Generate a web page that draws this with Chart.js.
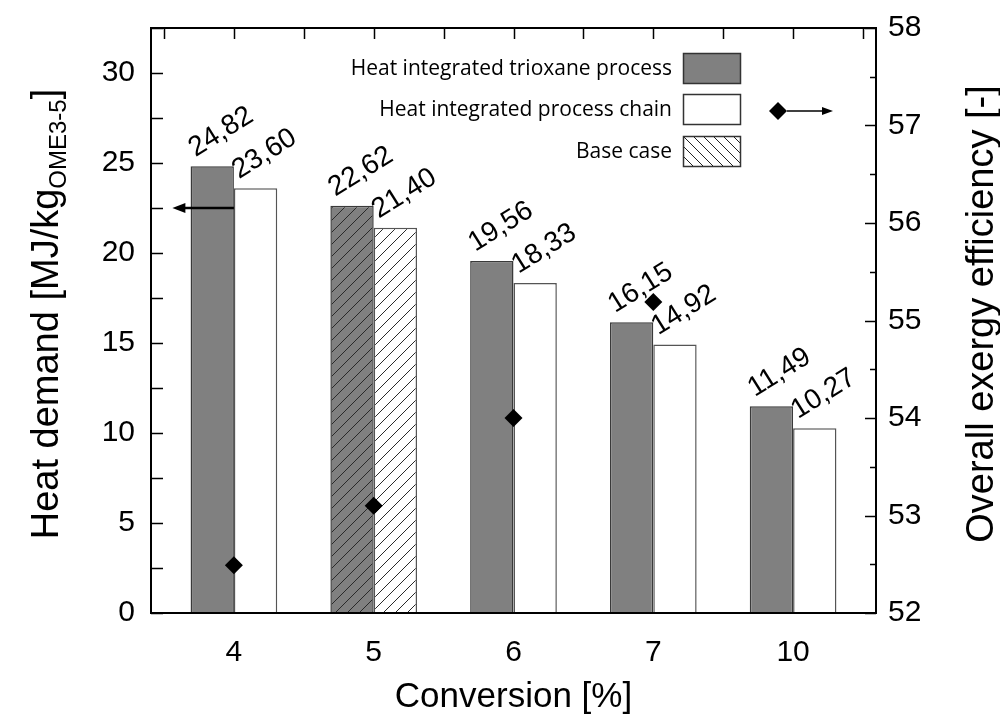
<!DOCTYPE html>
<html><head><meta charset="utf-8">
<script src="https://cdn.jsdelivr.net/npm/chart.js@4.4.1/dist/chart.umd.min.js"></script>
<style>html,body{margin:0;padding:0;background:#fff}#wrap{width:1000px;height:715px}</style>
</head><body><div id="wrap"><canvas id="c" width="1000" height="715"></canvas></div>
<script>
// ---- data ----
const categories = ['4', '5', '6', '7', '10'];
const trioxaneProcess = [24.82, 22.62, 19.56, 16.15, 11.49];
const processChain = [23.60, 21.40, 18.33, 14.92, 10.27];
const exergyEfficiency = [52.49, 53.10, 54.00, 55.19, null];
const baseCaseIndex = 1;
const leftTicks = [0, 5, 10, 15, 20, 25, 30];
const rightTicks = [52, 53, 54, 55, 56, 57, 58];
const legendLabels = ['Heat integrated trioxane process', 'Heat integrated process chain', 'Base case'];

const FONT = "'Liberation Sans', Arial, sans-serif";
const LFONT = "'Open Sans', 'Noto Sans', sans-serif";

function hatch(bg, fg, dir) {
  const c = document.createElement('canvas');
  c.width = 12; c.height = 12;
  const g = c.getContext('2d');
  g.fillStyle = bg; g.fillRect(0, 0, 12, 12);
  g.strokeStyle = fg; g.lineWidth = 1;
  g.beginPath();
  if (dir > 0) {
    for (let k = -1; k <= 1; k++) { g.moveTo(k * 12, 12); g.lineTo(k * 12 + 12, 0); }
  } else {
    for (let k = -1; k <= 1; k++) { g.moveTo(k * 12, 0); g.lineTo(k * 12 + 12, 12); }
  }
  g.stroke();
  return document.getElementById('c').getContext('2d').createPattern(c, 'repeat');
}
const grayHatch = hatch('#808080', '#2a2a2a', 1);
const whiteHatch = hatch('#ffffff', '#2a2a2a', 1);

const fmt = v => v.toFixed(2).replace('.', ',');

const decor = {
  id: 'decor',
  beforeDatasetDraw(chart, args) {
    if (args.index !== 2) return;
    const ctx = chart.ctx;
    ctx.save();
    ctx.fillStyle = '#000';
    ctx.font = '28px ' + FONT;
    ctx.textBaseline = 'alphabetic';
    ctx.textAlign = 'left';
    [0, 1].forEach(di => {
      const meta = chart.getDatasetMeta(di);
      const vals = di === 0 ? trioxaneProcess : processChain;
      meta.data.forEach((bar, i) => {
        const x = bar.x - bar.width / 2 + 5;
        const y = bar.y - 9;
        ctx.save();
        ctx.translate(x, y);
        ctx.rotate(-32 * Math.PI / 180);
        ctx.fillText(fmt(vals[i]), 0, 0);
        ctx.restore();
      });
    });
    ctx.restore();
  },
  afterDraw(chart) {
    const ctx = chart.ctx;
    const a = chart.chartArea;
    const xs = chart.scales.x, ys = chart.scales.y, y2 = chart.scales.y2;
    ctx.save();
    // ticks
    ctx.strokeStyle = '#000';
    ctx.lineWidth = 1.5;
    ctx.beginPath();
    for (let v = 0; v <= 32.5; v += 2.5) {
      const p = Math.round(ys.getPixelForValue(v)) + 0.5;
      ctx.moveTo(a.left, p); ctx.lineTo(a.left + 12, p);
    }
    for (let v = 52; v <= 58; v += 0.5) {
      const p = Math.round(y2.getPixelForValue(v)) + 0.5;
      const len = Number.isInteger(v) ? 11 : 6;
      ctx.moveTo(a.right, p); ctx.lineTo(a.right - len, p);
    }
    for (let v = -0.5; v <= 4.5; v += 0.5) {
      const p = Math.round(xs.getPixelForValue(v)) + 0.5;
      ctx.moveTo(p, a.top); ctx.lineTo(p, a.top + 11);
    }
    ctx.stroke();
    // frame
    ctx.lineWidth = 2;
    ctx.strokeRect(a.left, a.top, a.right - a.left, a.bottom - a.top);
    // left arrow (bars -> left axis)
    const ay = ys.getPixelForValue(22.5);
    const ax0 = xs.getPixelForValue(0), ax1 = xs.getPixelForValue(-0.44);
    ctx.lineWidth = 2.5;
    ctx.beginPath(); ctx.moveTo(ax0, ay); ctx.lineTo(ax1 + 8, ay); ctx.stroke();
    ctx.fillStyle = '#000';
    ctx.beginPath(); ctx.moveTo(ax1, ay); ctx.lineTo(ax1 + 13, ay - 5); ctx.lineTo(ax1 + 13, ay + 5); ctx.closePath(); ctx.fill();

    // legend
    ctx.font = '21px ' + LFONT;
    ctx.textAlign = 'right';
    ctx.textBaseline = 'middle';
    const boxL = 683, boxW = 57, boxH = 30, tops = [53, 94, 136];
    const fills = ['#808080', '#ffffff', null];
    legendLabels.forEach((t, i) => {
      const top = tops[i];
      ctx.fillStyle = '#000';
      ctx.fillText(t, 672, top + boxH / 2 + 1);
      if (fills[i]) { ctx.fillStyle = fills[i]; ctx.fillRect(boxL, top, boxW, boxH); }
      else {
        ctx.fillStyle = '#fff'; ctx.fillRect(boxL, top, boxW, boxH);
        ctx.save();
        ctx.beginPath(); ctx.rect(boxL, top, boxW, boxH); ctx.clip();
        ctx.strokeStyle = '#222'; ctx.lineWidth = 1;
        ctx.beginPath();
        for (let k = -40; k < boxW + 10; k += 10) { ctx.moveTo(boxL + k, top); ctx.lineTo(boxL + k + boxH, top + boxH); }
        ctx.stroke();
        ctx.restore();
      }
      ctx.strokeStyle = '#333'; ctx.lineWidth = 1.5;
      ctx.strokeRect(boxL + 0.5, top + 0.5, boxW, boxH);
    });
    // diamond legend with arrow -> right axis
    const dy = y2.getPixelForValue(57.15), dx = 778;
    ctx.fillStyle = '#000';
    ctx.beginPath(); ctx.moveTo(dx, dy - 9); ctx.lineTo(dx + 9, dy); ctx.lineTo(dx, dy + 9); ctx.lineTo(dx - 9, dy); ctx.closePath(); ctx.fill();
    ctx.strokeStyle = '#000'; ctx.lineWidth = 1.5;
    ctx.beginPath(); ctx.moveTo(dx + 9, dy); ctx.lineTo(824, dy); ctx.stroke();
    ctx.beginPath(); ctx.moveTo(833, dy); ctx.lineTo(822, dy - 4); ctx.lineTo(822, dy + 4); ctx.closePath(); ctx.fill();

    // axis titles
    ctx.fillStyle = '#000';
    ctx.textAlign = 'left';
    ctx.textBaseline = 'alphabetic';
    const big = '38px ' + FONT, small = '24px ' + FONT;
    const p1 = 'Heat demand [MJ/kg', p2 = 'OME3-5', p3 = ']';
    ctx.font = big; const w1 = ctx.measureText(p1).width, w3 = ctx.measureText(p3).width;
    ctx.font = small; const w2 = ctx.measureText(p2).width;
    const total = w1 + w2 + w3;
    const cy = 314;
    ctx.save();
    ctx.translate(58, cy + total / 2);
    ctx.rotate(-Math.PI / 2);
    ctx.font = big; ctx.fillText(p1, 0, 0);
    ctx.font = small; ctx.fillText(p2, w1, 8);
    ctx.font = big; ctx.fillText(p3, w1 + w2, 0);
    ctx.restore();
    ctx.save();
    ctx.font = big;
    ctx.translate(993, 314);
    ctx.rotate(-Math.PI / 2);
    ctx.textAlign = 'center';
    ctx.fillText('Overall exergy efficiency [-]', 0, 0);
    ctx.restore();
    ctx.font = '35px ' + FONT;
    ctx.textAlign = 'center';
    ctx.fillText('Conversion [%]', (a.left + a.right) / 2, 707);
    ctx.restore();
  }
};

const noPad = s => { s.paddingTop = 0; s.paddingBottom = 0; };

new Chart(document.getElementById('c'), {
  data: {
    datasets: [
      {
        type: 'bar', label: legendLabels[0],
        data: trioxaneProcess.map((v, i) => ({ x: i, y: v })),
        backgroundColor: trioxaneProcess.map((v, i) => i === baseCaseIndex ? grayHatch : '#808080'),
        borderColor: '#3a3a3a', borderWidth: 1.5,
        categoryPercentage: 0.62, barPercentage: 1,
        xAxisID: 'x', yAxisID: 'y', order: 1
      },
      {
        type: 'bar', label: legendLabels[1],
        data: processChain.map((v, i) => ({ x: i, y: v })),
        backgroundColor: processChain.map((v, i) => i === baseCaseIndex ? whiteHatch : '#ffffff'),
        borderColor: '#555555', borderWidth: 1.5,
        categoryPercentage: 0.62, barPercentage: 1,
        xAxisID: 'x', yAxisID: 'y', order: 1
      },
      {
        type: 'line', label: 'Overall exergy efficiency',
        data: exergyEfficiency.map((v, i) => ({ x: i, y: v })),
        showLine: false, pointStyle: 'rectRot', pointRadius: 9,
        backgroundColor: '#000', borderColor: '#000', borderWidth: 0,
        xAxisID: 'x', yAxisID: 'y2', order: 0
      }
    ]
  },
  options: {
    responsive: false, animation: false, devicePixelRatio: 1,
    layout: { padding: { top: 28, left: 0, right: 0, bottom: 0 } },
    plugins: { legend: { display: false }, tooltip: { enabled: false } },
    scales: {
      x: {
        type: 'linear', position: 'bottom', min: -0.593, max: 4.593, offset: false,
        grid: { display: false, drawTicks: false, offset: false }, border: { display: false },
        afterBuildTicks: s => { s.ticks = categories.map((c, i) => ({ value: i })); },
        ticks: { callback: v => categories[v], font: { size: 30, family: FONT }, color: '#000', padding: 22, maxRotation: 0, autoSkip: false },
        afterFit: s => { s.height = 102; s.paddingLeft = 0; s.paddingRight = 0; }
      },
      y: {
        type: 'linear', position: 'left', min: 0, max: 32.5,
        grid: { display: false, drawTicks: false }, border: { display: false },
        afterBuildTicks: s => { s.ticks = leftTicks.map(v => ({ value: v })); },
        ticks: { font: { size: 30, family: FONT }, color: '#000', padding: 16 },
        afterFit: s => { s.width = 151; noPad(s); }
      },
      y2: {
        type: 'linear', position: 'right', min: 52, max: 58,
        grid: { display: false, drawTicks: false }, border: { display: false },
        afterBuildTicks: s => { s.ticks = rightTicks.map(v => ({ value: v })); },
        ticks: { font: { size: 30, family: FONT }, color: '#000', padding: 12 },
        afterFit: s => { s.width = 124; noPad(s); }
      }
    }
  },
  plugins: [decor]
});
</script>
</body></html>
